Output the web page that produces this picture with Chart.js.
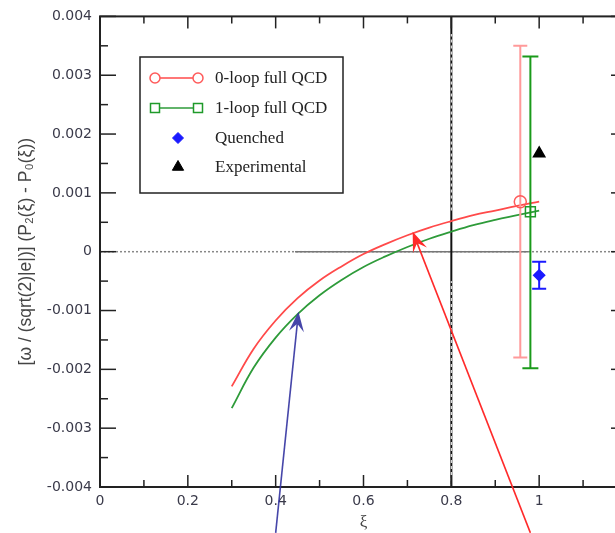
<!DOCTYPE html>
<html>
<head>
<meta charset="utf-8">
<script src="https://cdn.jsdelivr.net/npm/chart.js@4"></script>
<style>
  html, body { margin: 0; padding: 0; overflow: hidden; background: #fff; }
  #wrap { position: relative; width: 640px; height: 533px; }
</style>
</head>
<body>
<div id="wrap"><canvas id="chart"></canvas></div>
<script>
// curve data (xi vs value)
const xi = [0.3, 0.35, 0.4, 0.45, 0.5, 0.55, 0.6, 0.65, 0.7, 0.75, 0.8, 0.85, 0.9, 0.95, 1.0];
const loop0 = [-0.00229, -0.00165, -0.00117, -0.00079, -0.00049, -0.00025, -0.00004, 0.00013, 0.00028, 0.00041, 0.00052, 0.00062, 0.0007, 0.00078, 0.00085];
const loop1 = [-0.00266, -0.00197, -0.00146, -0.00106, -0.00074, -0.00048, -0.00026, -0.00008, 0.00008, 0.00022, 0.00034, 0.00045, 0.00054, 0.00062, 0.0007];

// single points with error bars
const pointNames = ["0-loop full QCD", "1-loop full QCD", "Quenched", "Experimental"];
const pointX = [0.957, 0.98, 1.0, 1.0];
const pointY = [0.00085, 0.00068, -0.0004, 0.00167];
const errLow = [-0.0018, -0.00198, -0.00063, null];
const errHigh = [0.0035, 0.00332, -0.00017, null];

// reference lines
const refX = 0.8;
const zeroSolid = [0.444, 0.975];

// annotation arrows [x, y] from -> to
const arrowFrom = [[0.4, -0.00478], [0.98, -0.00478]];
const arrowTo = [[0.452, -0.00102], [0.712, 0.00034]];

// axis ticks
const xTicks = [0, 0.2, 0.4, 0.6, 0.8, 1, 1.2];
const xLabels = ["0", "0.2", "0.4", "0.6", "0.8", "1", ""];
const yTicks = [-0.004, -0.003, -0.002, -0.001, 0, 0.001, 0.002, 0.003, 0.004];
const yLabels = ["-0.004", "-0.003", "-0.002", "-0.001", "0", "0.001", "0.002", "0.003", "0.004"];

const yTitle = "[\u03c9 / (sqrt(2)|e|)] (P\u2082(\u03be) - P\u2080(\u03be))";
const xTitle = "\u03be";

const RED = "#ff4a4a";
const RED_LIGHT = "#ff9a9a";
const GREEN = "#2e9b3a";
const GREEN_BAR = "#1a9a1a";
const BLUE = "#1a1aff";
const seriesStyle = [
  { color: "#ff5a5a", style: "circle", radius: 6, fill: false },
  { color: "#1f9a2a", style: "rect", radius: 7, fill: false },
  { color: BLUE, style: "rectRot", radius: 5.5, fill: true },
  { color: "#000", style: "triangle", radius: 6.5, fill: true }
];
const barStyle = [
  { color: RED_LIGHT, cap: 7 },
  { color: GREEN_BAR, cap: 8 },
  { color: BLUE, cap: 7 }
];

function pts(xs, ys) {
  return xs.map((x, i) => ({ x: x, y: ys[i] }));
}

const datasets = [];

// markers (drawn on top: earlier datasets are painted last)
pointNames.forEach((name, i) => {
  const s = seriesStyle[i];
  datasets.push({
    label: name,
    data: [{ x: pointX[i], y: pointY[i] }],
    showLine: false,
    pointStyle: s.style,
    pointRadius: s.radius,
    pointBorderColor: s.color,
    pointBackgroundColor: s.fill ? s.color : "rgba(0,0,0,0)",
    pointBorderWidth: 1.5
  });
});

// error bars
barStyle.forEach((b, i) => {
  datasets.push({
    label: "err" + i,
    data: [{ x: pointX[i], y: errLow[i] }, { x: pointX[i], y: errHigh[i] }],
    showLine: true,
    borderColor: b.color,
    borderWidth: 2,
    pointStyle: "line",
    pointRadius: b.cap,
    pointBorderColor: b.color,
    pointBorderWidth: 2
  });
});

// curves
datasets.push({
  label: "loop0 curve",
  data: pts(xi, loop0),
  showLine: true,
  borderColor: RED,
  borderWidth: 1.8,
  pointRadius: 0,
  tension: 0.4
});
datasets.push({
  label: "loop1 curve",
  data: pts(xi, loop1),
  showLine: true,
  borderColor: GREEN,
  borderWidth: 1.8,
  pointRadius: 0,
  tension: 0.4
});

// vertical reference line with white dashes over parts of it
datasets.push({
  label: "vdash",
  data: [
    { x: refX, y: -0.004 }, { x: refX, y: -0.0005 }, { x: refX, y: null },
    { x: refX, y: 0.0007 }, { x: refX, y: 0.0037 }
  ],
  showLine: true,
  spanGaps: false,
  borderColor: "#fff",
  borderWidth: 1,
  borderDash: [3, 3],
  pointRadius: 0
});
datasets.push({
  label: "vline",
  data: [{ x: refX, y: -0.004 }, { x: refX, y: 0.004 }],
  showLine: true,
  borderColor: "#111",
  borderWidth: 2,
  pointRadius: 0
});

// zero line
datasets.push({
  label: "zero solid",
  data: [{ x: zeroSolid[0], y: 0 }, { x: zeroSolid[1], y: 0 }],
  showLine: true,
  borderColor: "#777",
  borderWidth: 1.5,
  pointRadius: 0
});
datasets.push({
  label: "zero",
  data: [{ x: 0, y: 0 }, { x: 1.2, y: 0 }],
  showLine: true,
  borderColor: "#888",
  borderWidth: 1.5,
  borderDash: [2, 2],
  pointRadius: 0
});

function line(ctx, x0, y0, x1, y1) {
  ctx.beginPath();
  ctx.moveTo(x0, y0);
  ctx.lineTo(x1, y1);
  ctx.stroke();
}

function drawArrow(ctx, x0, y0, x1, y1, color) {
  const ang = Math.atan2(y1 - y0, x1 - x0);
  const c = Math.cos(ang), s = Math.sin(ang);
  const L = 20, W = 7.5;
  ctx.strokeStyle = color;
  ctx.fillStyle = color;
  ctx.lineWidth = 1.6;
  line(ctx, x0, y0, x1 - c * L * 0.6, y1 - s * L * 0.6);
  ctx.beginPath();
  ctx.moveTo(x1, y1);
  ctx.lineTo(x1 - c * L - s * W, y1 - s * L + c * W);
  ctx.lineTo(x1 - c * L * 0.6, y1 - s * L * 0.6);
  ctx.lineTo(x1 - c * L + s * W, y1 - s * L - c * W);
  ctx.closePath();
  ctx.fill();
}

const framePlugin = {
  id: "frame",
  afterDraw(chart) {
    const { ctx, chartArea: a, scales } = chart;
    const x = scales.x, y = scales.y;
    ctx.save();

    // frame
    ctx.strokeStyle = "#222";
    ctx.lineWidth = 2;
    ctx.strokeRect(a.left, a.top, a.right - a.left, a.bottom - a.top);

    // inward ticks on all four sides
    ctx.lineWidth = 1.5;
    xTicks.forEach((v, i) => {
      const px = x.getPixelForValue(v);
      line(ctx, px, a.bottom, px, a.bottom - 12);
      line(ctx, px, a.top, px, a.top + 12);
      if (i < xTicks.length - 1) {
        const mx = x.getPixelForValue((v + xTicks[i + 1]) / 2);
        line(ctx, mx, a.bottom, mx, a.bottom - 7);
        line(ctx, mx, a.top, mx, a.top + 7);
      }
    });
    yTicks.forEach((v, i) => {
      const py = y.getPixelForValue(v);
      line(ctx, a.left, py, a.left + 16, py);
      line(ctx, a.right, py, a.right - 16, py);
      if (i < yTicks.length - 1) {
        const my = y.getPixelForValue((v + yTicks[i + 1]) / 2);
        line(ctx, a.left, my, a.left + 8, my);
        line(ctx, a.right, my, a.right - 8, my);
      }
    });

    // arrows
    const arrowColors = ["rgba(50,50,160,0.9)", "#ff2a2a"];
    arrowFrom.forEach((f, i) => {
      const t = arrowTo[i];
      drawArrow(ctx,
        x.getPixelForValue(f[0]), y.getPixelForValue(f[1]),
        x.getPixelForValue(t[0]), y.getPixelForValue(t[1]),
        arrowColors[i]);
    });

    // axis titles
    ctx.fillStyle = "#444";
    ctx.font = "17.5px 'Liberation Sans', 'DejaVu Sans', sans-serif";
    ctx.textAlign = "center";
    ctx.textBaseline = "middle";
    ctx.save();
    ctx.translate(26, (a.top + a.bottom) / 2);
    ctx.rotate(-Math.PI / 2);
    ctx.fillText(yTitle, 0, 0);
    ctx.restore();
    ctx.font = "17px 'Liberation Serif', serif";
    ctx.fillText(xTitle, x.getPixelForValue(0.6), 523);

    // legend
    const lx = 140, ly = 57, lw = 203, lh = 136;
    ctx.fillStyle = "#fff";
    ctx.fillRect(lx, ly, lw, lh);
    ctx.strokeStyle = "#222";
    ctx.lineWidth = 1.5;
    ctx.strokeRect(lx, ly, lw, lh);
    const rows = [78, 108, 138, 167];
    ctx.font = "17px 'Liberation Serif', serif";
    ctx.textAlign = "left";
    pointNames.forEach((name, i) => {
      const s = seriesStyle[i];
      const ry = rows[i];
      if (i < 2) {
        ctx.strokeStyle = i === 0 ? RED : GREEN;
        ctx.lineWidth = 1.5;
        line(ctx, 155, ry, 198, ry);
        [155, 198].forEach(cx => {
          ctx.strokeStyle = s.color;
          ctx.fillStyle = "#fff";
          ctx.lineWidth = 1.5;
          ctx.beginPath();
          if (s.style === "circle") {
            ctx.arc(cx, ry, 5, 0, Math.PI * 2);
          } else {
            ctx.rect(cx - 4.5, ry - 4.5, 9, 9);
          }
          ctx.fill();
          ctx.stroke();
        });
      } else {
        ctx.fillStyle = s.color;
        ctx.strokeStyle = s.color;
        ctx.lineWidth = 1;
        Chart.helpers.drawPoint(ctx, {
          pointStyle: s.style, radius: s.radius, borderWidth: 1
        }, 178, ry);
      }
      ctx.fillStyle = "#222";
      ctx.fillText(name, 215, ry + 1);
    });

    ctx.restore();
  }
};

new Chart(document.getElementById("chart"), {
  type: "scatter",
  data: { datasets: datasets },
  options: {
    responsive: true,
    maintainAspectRatio: false,
    animation: false,
    layout: { padding: { left: 0, top: 15, right: 13, bottom: 0 } },
    plugins: {
      legend: { display: false },
      tooltip: { enabled: false }
    },
    scales: {
      x: {
        type: "linear",
        min: 0,
        max: 1.2,
        afterBuildTicks: (s) => { s.ticks = xTicks.map(v => ({ value: v })); },
        afterFit: (s) => { s.height = 46; },
        grid: { display: false, drawTicks: false },
        border: { display: false },
        ticks: {
          padding: 6,
          color: "#3a3a4a",
          font: { family: "'DejaVu Sans', sans-serif", size: 14 },
          callback: (v, i) => xLabels[i]
        }
      },
      y: {
        type: "linear",
        min: -0.004,
        max: 0.004,
        afterBuildTicks: (s) => { s.ticks = yTicks.map(v => ({ value: v })); },
        afterFit: (s) => { s.width = 100; },
        grid: { display: false, drawTicks: false },
        border: { display: false },
        ticks: {
          padding: 8,
          color: "#3a3a4a",
          font: { family: "'DejaVu Sans', sans-serif", size: 14 },
          callback: (v, i) => yLabels[i]
        }
      }
    }
  },
  plugins: [framePlugin]
});
</script>
</body>
</html>
